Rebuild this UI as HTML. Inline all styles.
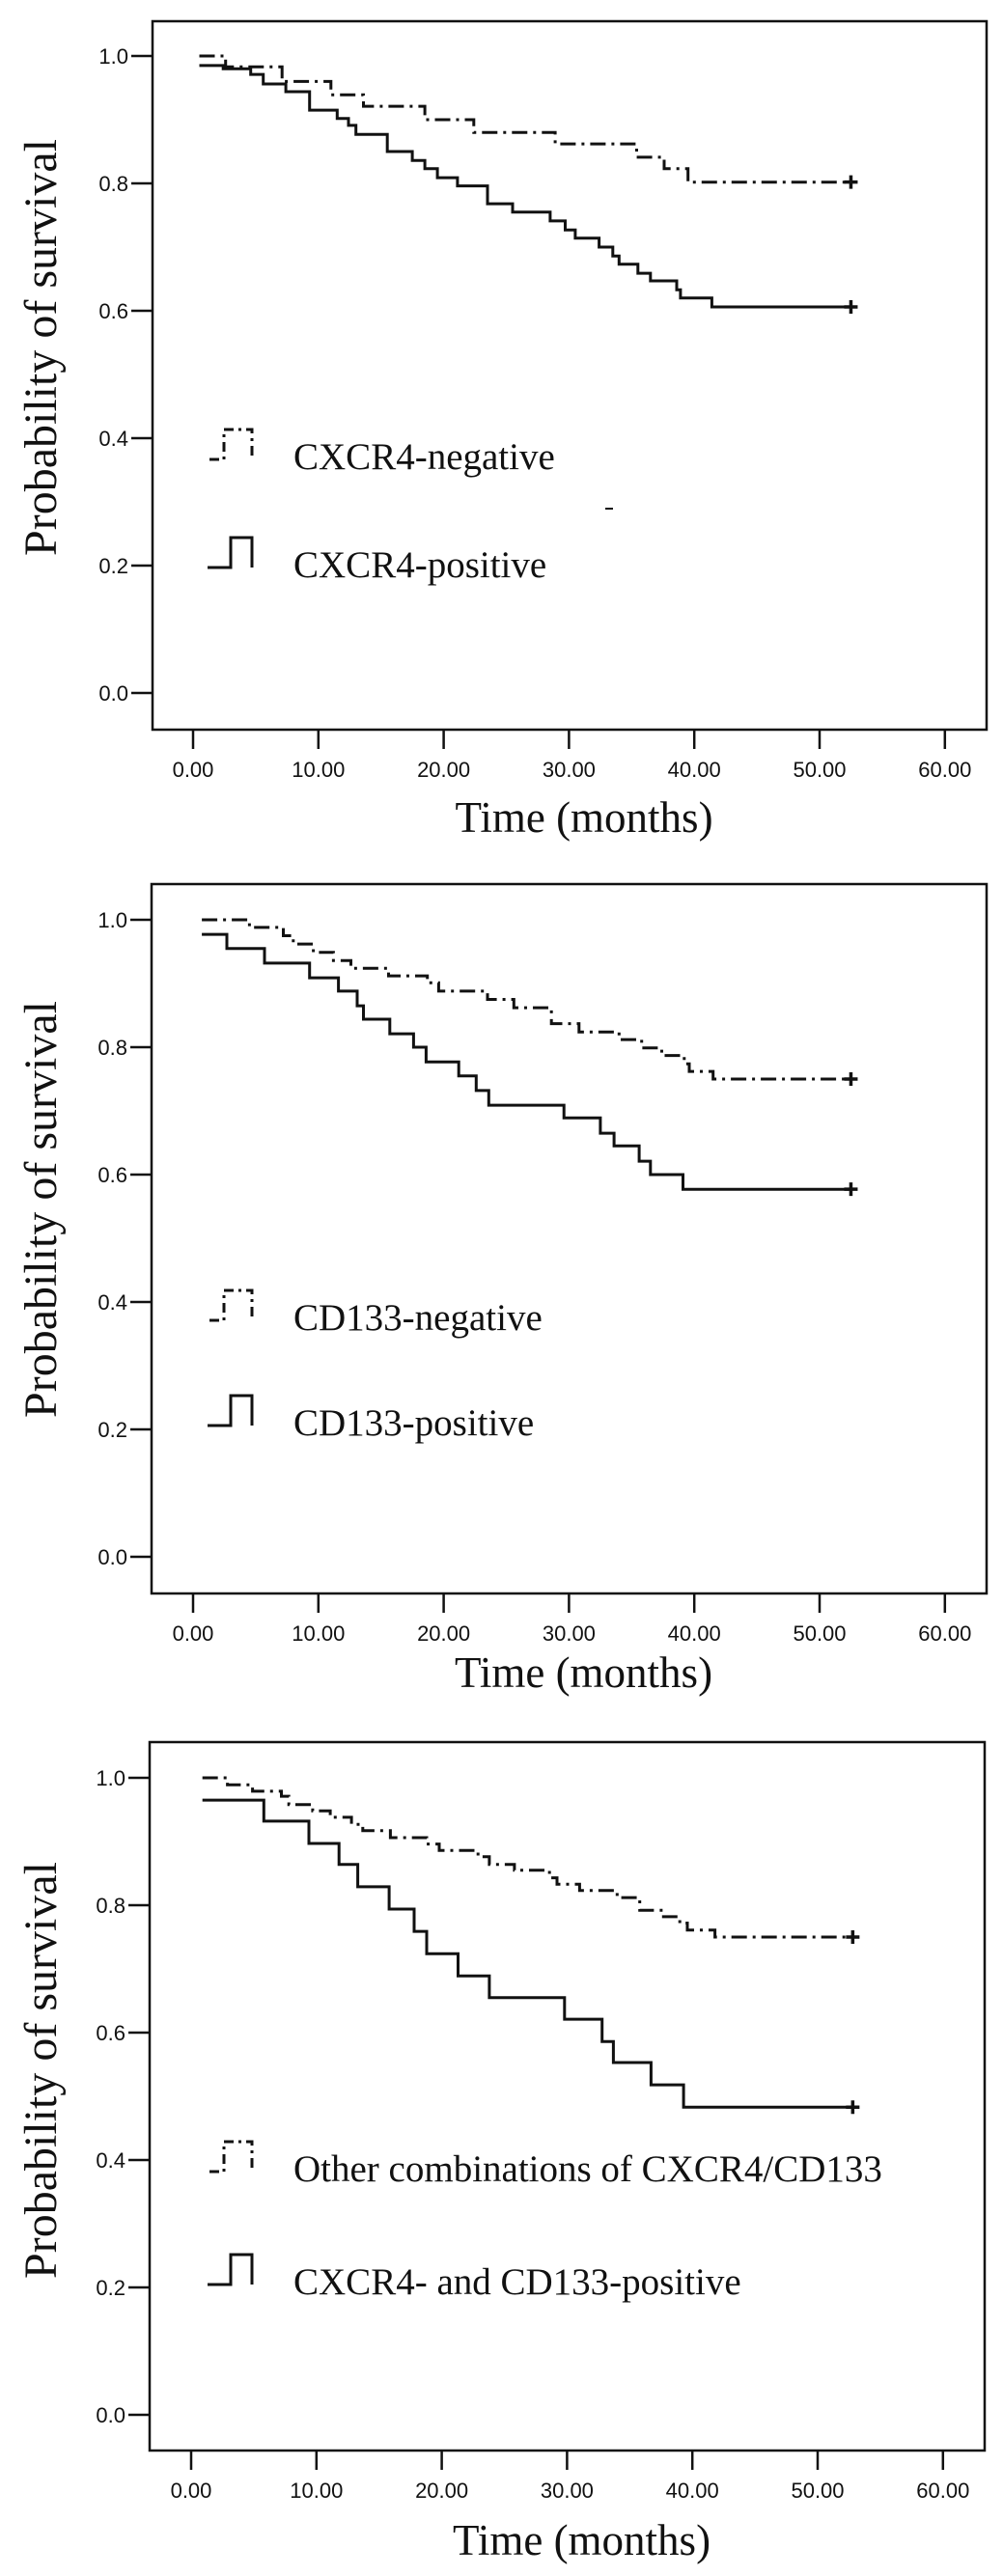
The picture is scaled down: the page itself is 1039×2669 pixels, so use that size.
<!DOCTYPE html>
<html><head><meta charset="utf-8"><style>
html,body{margin:0;padding:0;background:#fff;}
svg{display:block;}
.tick{font-family:"Liberation Sans",Arial,sans-serif;font-size:22px;fill:#111;}
.serif{font-family:"Liberation Serif","Times New Roman",serif;fill:#111;}
</style></head><body>
<svg id="fig" width="1039" height="2669" viewBox="0 0 1039 2669" xmlns="http://www.w3.org/2000/svg"></svg>
<script>
// ---- data ----
const yTicks = [0.0, 0.2, 0.4, 0.6, 0.8, 1.0];
const yTickLabels = ["0.0","0.2","0.4","0.6","0.8","1.0"];
const xTicks = [0, 10, 20, 30, 40, 50, 60];
const xTickLabels = ["0.00","10.00","20.00","30.00","40.00","50.00","60.00"];

// Chart 1: CXCR4
const c1NegTimes = [0.5, 2.6, 7.1, 11.0, 13.6, 18.5, 22.4, 28.9, 35.4, 37.6, 39.5, 52.5];
const c1NegSurv  = [1.0, 0.983, 0.96, 0.939, 0.921, 0.9, 0.88, 0.862, 0.841, 0.823, 0.802, 0.802];
const c1PosTimes = [0.5, 2.4, 4.6, 5.6, 7.4, 9.3, 11.5, 12.4, 13.0, 15.5, 17.5, 18.5, 19.5, 21.1, 23.5, 25.5, 28.5, 29.7, 30.5, 32.4, 33.5, 34.0, 35.5, 36.5, 38.6, 38.9, 41.4, 52.5];
const c1PosSurv  = [0.985, 0.98, 0.971, 0.956, 0.944, 0.915, 0.902, 0.891, 0.877, 0.85, 0.836, 0.823, 0.809, 0.796, 0.768, 0.755, 0.741, 0.727, 0.714, 0.7, 0.686, 0.673, 0.659, 0.647, 0.633, 0.62, 0.606, 0.606];

// Chart 2: CD133
const c2NegTimes = [0.7, 4.5, 7.2, 8.0, 9.6, 11.2, 12.6, 15.6, 18.7, 19.6, 23.5, 25.6, 28.6, 30.8, 34.0, 35.8, 37.4, 39.2, 39.6, 41.5, 52.5];
const c2NegSurv  = [1.0, 0.988, 0.975, 0.962, 0.949, 0.936, 0.924, 0.912, 0.901, 0.888, 0.875, 0.862, 0.837, 0.824, 0.812, 0.799, 0.787, 0.774, 0.762, 0.75, 0.75];
const c2PosTimes = [0.7, 2.7, 5.7, 9.3, 11.6, 13.1, 13.6, 15.7, 17.6, 18.6, 21.2, 22.6, 23.6, 29.6, 32.5, 33.6, 35.6, 36.5, 39.1, 52.5];
const c2PosSurv  = [0.977, 0.955, 0.932, 0.909, 0.888, 0.865, 0.844, 0.821, 0.8, 0.777, 0.755, 0.732, 0.709, 0.689, 0.665, 0.645, 0.621, 0.6, 0.577, 0.577];

// Chart 3: combination
const c3NegTimes = [0.9, 2.9, 4.9, 7.2, 7.8, 9.7, 11.1, 12.8, 13.7, 15.9, 18.8, 19.8, 22.9, 23.8, 25.8, 28.6, 29.2, 31.0, 34.0, 35.8, 37.7, 39.0, 39.6, 41.8, 52.8];
const c3NegSurv  = [1.0, 0.989, 0.979, 0.971, 0.958, 0.948, 0.938, 0.927, 0.917, 0.906, 0.896, 0.886, 0.876, 0.864, 0.855, 0.843, 0.833, 0.823, 0.812, 0.792, 0.782, 0.772, 0.761, 0.75, 0.75];
const c3PosTimes = [0.9, 5.8, 9.4, 11.8, 13.3, 15.8, 17.8, 18.8, 21.3, 23.8, 29.8, 32.8, 33.7, 36.7, 39.3, 52.8];
const c3PosSurv  = [0.965, 0.932, 0.897, 0.864, 0.829, 0.794, 0.759, 0.724, 0.689, 0.655, 0.621, 0.586, 0.553, 0.518, 0.483, 0.483];

const legendNeg = ["CXCR4-negative", "CD133-negative", "Other combinations of CXCR4/CD133"];
const legendPos = ["CXCR4-positive", "CD133-positive", "CXCR4- and CD133-positive"];

// ---- layout ----
const NS = "http://www.w3.org/2000/svg";
const svg = document.getElementById("fig");
const charts = [
  {left:158, top:22, right:1022, axis:756, y0:718, x0:200, leg:[486,598], title:862, ytc:360, neg:[c1NegTimes,c1NegSurv], pos:[c1PosTimes,c1PosSurv]},
  {left:157, top:916, right:1022, axis:1651, y0:1613, x0:200, leg:[1378,1487], title:1748, ytc:1253, neg:[c2NegTimes,c2NegSurv], pos:[c2PosTimes,c2PosSurv]},
  {left:155, top:1805, right:1020, axis:2539, y0:2502, x0:198, leg:[2260,2377], title:2647, ytc:2145, neg:[c3NegTimes,c3NegSurv], pos:[c3PosTimes,c3PosSurv]}
];
const KX = 12.98, KY = 660;

function mk(tag, attrs, parent){
  const e = document.createElementNS(NS, tag);
  for (const k in attrs) e.setAttribute(k, attrs[k]);
  (parent||svg).appendChild(e);
  return e;
}
function stepPath(times, surv, xs, ys){
  let d = "M" + xs(times[0]) + "," + ys(surv[0]);
  for (let i = 1; i < times.length; i++){
    d += " H" + xs(times[i]).toFixed(1);
    d += " V" + ys(surv[i]).toFixed(1);
  }
  return d;
}

charts.forEach((c, ci) => {
  const xs = t => c.x0 + t*KX;
  const ys = s => c.y0 - s*KY;
  const g = mk("g", {});
  
  

  const frame = mk("rect", {x:c.left, y:c.top, width:c.right-c.left, height:c.axis-c.top, fill:"none", stroke:"#111", "stroke-width":2.5}, g);
  
  

  yTicks.forEach((v, i) => {
    const y = ys(v);
    const tl = mk("line", {x1:c.left-22, x2:c.left, y1:y, y2:y, stroke:"#111", "stroke-width":2.5}, g);
    
    
    const tx = mk("text", {x:c.left-25, y:y+8, "text-anchor":"end", class:"tick"}, g);
    tx.textContent = yTickLabels[i];
    
    
  });
  xTicks.forEach((v, i) => {
    const x = xs(v);
    const tl = mk("line", {x1:x, x2:x, y1:c.axis, y2:c.axis+20, stroke:"#111", "stroke-width":2.5}, g);
    
    
    const tx = mk("text", {x:x, y:c.axis+49, "text-anchor":"middle", class:"tick"}, g);
    tx.textContent = xTickLabels[i];
    
    
  });

  const xt = mk("text", {x:(c.left+c.right)/2+15, y:c.title, "text-anchor":"middle", class:"serif", "font-size":45}, g);
  xt.textContent = "Time (months)";
  
  
  const yt = mk("text", {x:0, y:0, "text-anchor":"middle", class:"serif", "font-size":48, transform:"translate(58," + c.ytc + ") rotate(-90)"}, g);
  yt.textContent = "Probability of survival";
  
  

  // curves
  const pn = mk("path", {d:stepPath(c.neg[0], c.neg[1], xs, ys), fill:"none", stroke:"#111", "stroke-width":3, "stroke-dasharray":"16,6,3,6"}, g);
  
  
  const pp = mk("path", {d:stepPath(c.pos[0], c.pos[1], xs, ys), fill:"none", stroke:"#111", "stroke-width":3}, g);
  
  

  // censor marks
  [c.neg, c.pos].forEach(sr => {
    const n = sr[0].length - 1;
    const cx = xs(sr[0][n]), cy = ys(sr[1][n]);
    const cm = mk("path", {d:"M"+(cx-7)+","+cy+" H"+(cx+7)+" M"+cx+","+(cy-7)+" V"+(cy+7), stroke:"#111", "stroke-width":3.5}, g);
    
    
  });

  // legend
  const b1 = c.leg[0], b2 = c.leg[1];
  const ln = mk("path", {d:"M217,"+(b1-10)+" H232 V"+(b1-41)+" H261 V"+(b1-10), fill:"none", stroke:"#111", "stroke-width":3, "stroke-dasharray":"10,5,3,5"}, g);
  
  
  const lt1 = mk("text", {x:304, y:b1, class:"serif", "font-size":39}, g);
  lt1.textContent = legendNeg[ci];
  
  
  const lp = mk("path", {d:"M215,"+(b2-10)+" H239 V"+(b2-41)+" H261 V"+(b2-10), fill:"none", stroke:"#111", "stroke-width":3}, g);
  
  
  const lt2 = mk("text", {x:304, y:b2, class:"serif", "font-size":39}, g);
  lt2.textContent = legendPos[ci];
  
  
});

// stray artifact mark in chart 1
const st = mk("line", {x1:627, x2:635, y1:527, y2:527, stroke:"#111", "stroke-width":2});


</script>
</body></html>
